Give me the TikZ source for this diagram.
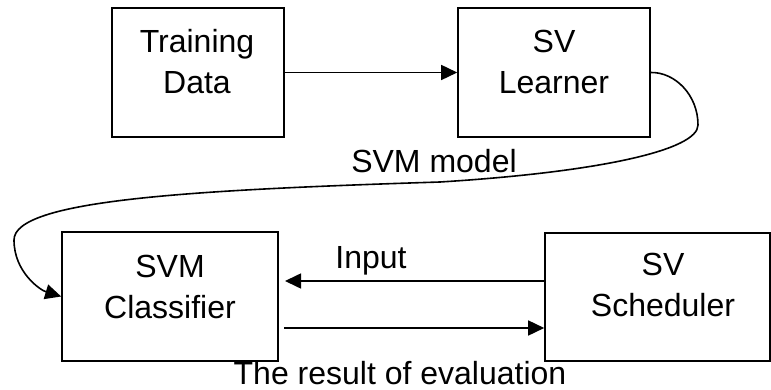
\documentclass[tikz,border=0pt]{standalone}
\usepackage{fontspec}
\setmainfont{Liberation Sans}
\usetikzlibrary{arrows.meta}
\begin{document}
\begin{tikzpicture}[x=1pt,y=-1pt,
  box/.style={draw,line width=1.6pt,rectangle,inner sep=0pt},
  lbl/.style={inner sep=0pt,align=center,font=\fontsize{32}{41}\selectfont},
  arr/.style={line width=1.6pt,-{Triangle[length=16pt,width=15pt]}}]
\useasboundingbox (0,0) rectangle (771,390);
\fill[white] (0,0) rectangle (771,390);

% boxes
\node[box,minimum width=172pt,minimum height=129pt] (td) at (198,72.5) {};
\node[box,minimum width=192pt,minimum height=129pt] (sl) at (554,72.5) {};
\node[box,minimum width=216pt,minimum height=129pt] (cl) at (170,296.5) {};
\node[box,minimum width=225pt,minimum height=128pt] (sc) at (657.5,297) {};

% box texts
\node[lbl,anchor=north] (tdt) at (197,29) {Training\\Data};
\node[lbl,anchor=north] (slt) at (554,30) {SV\\Learner};
\node[lbl,anchor=north] (clt) at (170,255) {SVM\\Classifier};
\node[lbl,anchor=north] (sct) at (663,253) {SV\\Scheduler};

% connectors
\draw[arr] (td.east) -- (sl.west);
\coordinate (inEnd) at (285,281);
\draw[arr] (sc.west |- inEnd) -- (inEnd);
\coordinate (resStart) at (284,328);
\draw[arr] (resStart) -- (sc.west |- resStart);
\draw[arr] (sl.east) .. controls (675,72) and (698,95) .. (698,125)
  .. controls (698,150) and (600,172) .. (440,182)
  .. controls (190,190) and (14,200) .. (14,240)
  .. controls (14,272) and (40,290) .. (cl.west);

% connector labels
\node[lbl,anchor=base] (lmodel) at (434,173) {SVM model};
\node[lbl,anchor=base] (linput) at (371,269) {Input};
\node[lbl,anchor=base] (lres) at (400,384) {The result of evaluation};
\end{tikzpicture}
\end{document}
